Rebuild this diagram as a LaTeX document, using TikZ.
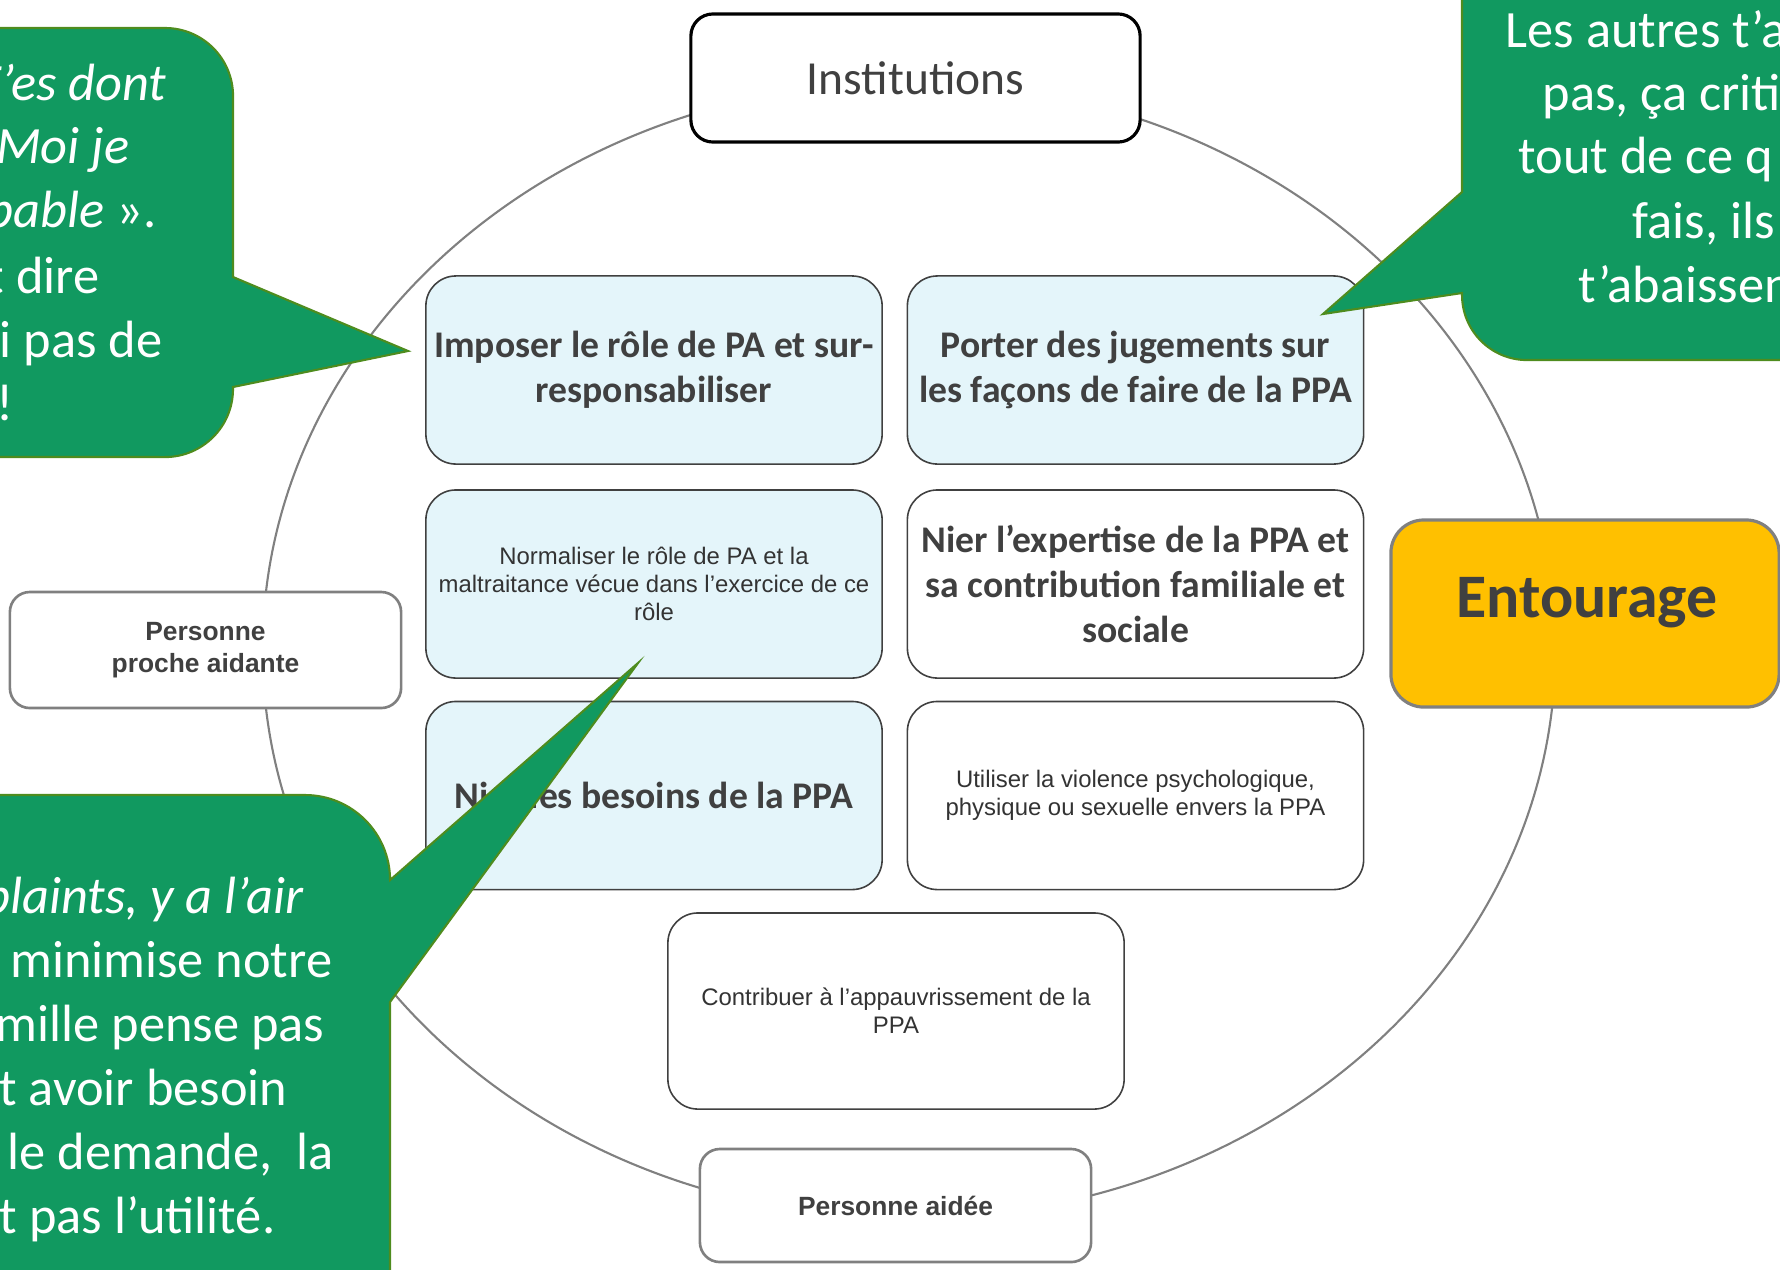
\documentclass[tikz,border=0pt]{standalone}
\usepackage{fontspec}
\setmainfont{Carlito}
\newfontfamily\arialfont{Liberation Sans}
\definecolor{calloutgreen}{RGB}{17,153,96}
\definecolor{calloutedge}{RGB}{78,140,30}
\definecolor{paleblue}{RGB}{228,245,250}
\definecolor{darktext}{RGB}{64,64,64}
\definecolor{ringgray}{RGB}{128,128,128}
\definecolor{gold}{RGB}{255,192,0}

\begin{document}
\begin{tikzpicture}[x=0.01cm,y=-0.01cm,
	card/.style={draw=black!75,line width=0.45pt,rounded corners=0.3cm,minimum width=4.56cm,minimum height=1.88cm,align=center,text=darktext,inner sep=0pt},
	bluecard/.style={card,fill=paleblue},
	whitecard/.style={card,fill=white},
	bigtxt/.style={font=\fontsize{10.7}{12.9}\selectfont\bfseries},
	smalltxt/.style={font=\arialfont\fontsize{6.8}{8}\selectfont,text=black!80},
	person/.style={draw=ringgray,line width=0.75pt,fill=white,rounded corners=0.2cm,minimum width=3.91cm,align=center,text=darktext,font=\arialfont\bfseries\fontsize{7.5}{9.1}\selectfont},
	bubble/.style={fill=calloutgreen,draw=calloutedge,line width=0.6pt},
	quote/.style={text=white,font=\fontsize{14.9}{18.2}\selectfont,inner sep=0pt},
	iquote/.style={quote,font=\fontsize{14.9}{18.2}\selectfont\itshape}]

	\useasboundingbox (0,0) rectangle (1780,1269);
	\clip (0,0) rectangle (1780,1269);

	% ring
	\draw[ringgray,line width=0.6pt] (909,650) ellipse [x radius=6.46cm,y radius=5.68cm];

	% ring labels
	\node[draw=black,line width=0.9pt,fill=white,rounded corners=0.22cm,minimum width=4.49cm,minimum height=1.28cm,text=darktext,font=\fontsize{13.5}{16}\selectfont] (institutions) at (915.5,78) {Institutions};
	\node[person,minimum height=1.16cm] (aidant) at (205.5,650) {Personne\\proche aidante};
	\node[person,minimum height=1.13cm] (aidee) at (895.5,1205.5) {Personne aidée};
	\node[draw=ringgray,line width=0.9pt,fill=gold,rounded corners=0.33cm,minimum width=3.88cm,minimum height=1.87cm] (entourage) at (1585,613.5) {};
	\node[anchor=base,text=darktext,font=\fontsize{17.6}{20}\selectfont\bfseries] (entouragetxt) at (1587,617) {Entourage};

	% cards
	\node[bluecard,bigtxt] (impose) at (654,370) {Imposer le rôle de PA et sur-\\responsabiliser};
	\node[bluecard,bigtxt] (juge) at (1135.5,370) {Porter des jugements sur\\les façons de faire de la PPA};
	\node[bluecard,smalltxt] (normalise) at (654,584) {Normaliser le rôle de PA et la\\maltraitance vécue dans l’exercice de ce\\rôle};
	\node[whitecard,bigtxt] (expertise) at (1135.5,584) {Nier l’expertise de la PPA et\\sa contribution familiale et\\sociale};
	\node[bluecard,bigtxt] (besoins) at (654,795.5) {Nier les besoins de la PPA};
	\node[whitecard,smalltxt] (violence) at (1135.5,795.5) {Utiliser la violence psychologique,\\physique ou sexuelle envers la PPA};
	\node[whitecard,smalltxt,minimum height=1.96cm] (pauvrete) at (896,1011) {Contribuer à l’appauvrissement de la\\PPA};

	% left quote
	\path[bubble] (-100,28) -- (165,28) arc[start angle=90,end angle=0,radius=0.68cm] -- (233,277) -- (408,351) -- (233,387) -- (233,389) arc[start angle=0,end angle=-90,radius=0.68cm] -- (-100,457) -- cycle;
	\node[iquote,anchor=base east] (qa1) at (167,100) {T’es dont};
	\node[iquote,anchor=base east] (qa2) at (130,163) {Moi je};
	\node[quote,anchor=base east] (qa3) at (157,227) {{\itshape pable} ».};
	\node[quote,anchor=base east] (qa4) at (100,293) {t dire};
	\node[quote,anchor=base east] (qa5) at (163,357) {i pas de};
	\node[quote,anchor=base east] (qa6) at (14,420) {!};

	% right quote
	\path[bubble] (1900,-100) -- (1462,-100) -- (1462,192) -- (1323,314) -- (1462,293) -- (1462,295) arc[start angle=180,end angle=270,radius=0.65cm] -- (1900,360) -- cycle;
	\node[quote,anchor=base west] (qb1) at (1505,47) {Les autres t’a};
	\node[quote,anchor=base west] (qb2) at (1542,110) {pas, ça criti};
	\node[quote,anchor=base west] (qb3) at (1518,173) {tout de ce q};
	\node[quote,anchor=base west] (qb4) at (1632,238) {fais, ils};
	\node[quote,anchor=base west] (qb5) at (1578,302) {t’abaissen};

	% bottom quote
	\path[bubble] (-100,795) -- (305,795) arc[start angle=90,end angle=0,radius=0.85cm] -- (638,663) -- (390,1002) -- (390,1400) -- (-100,1400) -- cycle;
	\node[iquote,anchor=base east] (qc1) at (304,913) {plaints, y a l’air};
	\node[quote,anchor=base east] (qc2) at (333,977) {minimise notre};
	\node[quote,anchor=base east] (qc3) at (325,1041) {mille pense pas};
	\node[quote,anchor=base east] (qc4) at (288,1105) {t avoir besoin};
	\node[quote,anchor=base east] (qc5) at (334,1169) {le demande,\ \ la};
	\node[quote,anchor=base east] (qc6) at (276,1233) {t pas l’utilité.};
\end{tikzpicture}
\end{document}
